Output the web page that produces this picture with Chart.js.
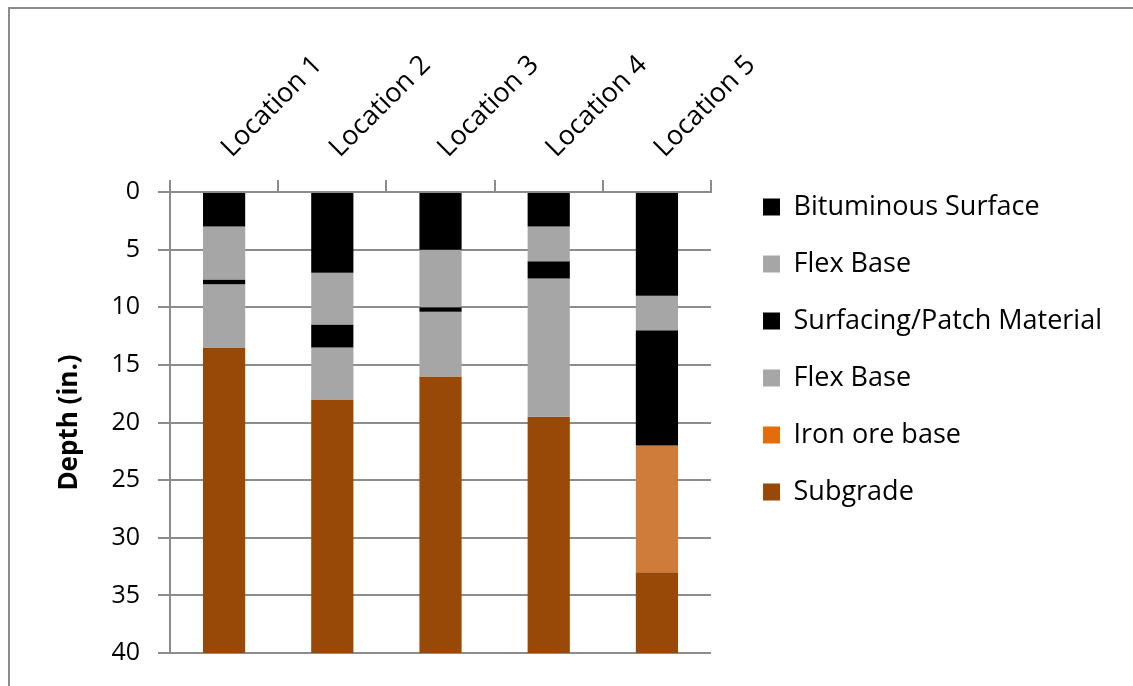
<!DOCTYPE html>
<html>
<head>
<meta charset="utf-8">
<script src="https://cdn.jsdelivr.net/npm/chart.js@4.4.1/dist/chart.umd.min.js"></script>
<style>
  body { margin: 0; background: #fff; overflow: hidden; }
  #frame { position: absolute; left: 8px; top: 7px; width: 1200px; height: 720px; border: 2px solid #8c8c8c; }
  #grafico { position: absolute; left: 0; top: 0; }
</style>
</head>
<body>
<div id="frame"></div>
<canvas id="grafico" width="1133" height="686"></canvas>
<script>
const locations = ['Location 1', 'Location 2', 'Location 3', 'Location 4', 'Location 5'];
const layerNames = ['Bituminous Surface', 'Flex Base', 'Surfacing/Patch Material', 'Flex Base', 'Iron ore base', 'Subgrade'];

// thickness of each layer (in.), top to bottom
const bituminous = [3, 7, 5, 3, 9];
const flexBase1 = [4.6, 4.5, 5, 3, 3];
const patch = [0.4, 2, 0.4, 1.5, 10];
const flexBase2 = [5.5, 4.5, 5.6, 12, 0];
const ironOre = [0, 0, 0, 0, 11];
const subgrade = [26.5, 22, 24, 20.5, 7];

const barColors = ['#000000', '#a6a6a6', '#000000', '#a6a6a6', '#cf7b3a', '#984807'];
const legendColors = ['#000000', '#a6a6a6', '#000000', '#a6a6a6', '#e46c0a', '#984807'];

const gridColor = '#8c8c8c';
const fonte = '"Open Sans", Lato, sans-serif';

const valores = [bituminous, flexBase1, patch, flexBase2, ironOre, subgrade];

new Chart(document.getElementById('grafico'), {
  type: 'bar',
  data: {
    labels: locations,
    datasets: valores.map((v, i) => ({
      label: layerNames[i],
      data: v,
      backgroundColor: barColors[i],
      borderWidth: 0,
      categoryPercentage: 1,
      barPercentage: 0.39
    }))
  },
  options: {
    responsive: false,
    animation: false,
    layout: { padding: { left: 54, top: 43, right: 21, bottom: 30 } },
    plugins: {
      tooltip: { enabled: false },
      legend: {
        position: 'right',
        maxWidth: 450,
        labels: {
          boxWidth: 17,
          boxHeight: 17,
          padding: 30,
          color: '#000',
          font: { family: fonte, size: 27 },
          generateLabels(chart) {
            return chart.data.datasets.map((d, i) => ({
              text: d.label,
              fillStyle: legendColors[i],
              strokeStyle: legendColors[i],
              lineWidth: 0,
              datasetIndex: i
            }));
          }
        }
      }
    },
    scales: {
      x: {
        position: 'top',
        stacked: true,
        grid: { offset: true, drawOnChartArea: false, tickLength: 12, color: gridColor, lineWidth: 2 },
        border: { color: gridColor, width: 2 },
        ticks: { minRotation: 45, maxRotation: 45, padding: 16, labelOffset: 25, color: '#000', font: { family: fonte, size: 27 } },
        afterFit(s) { s.height = 149; }
      },
      y: {
        stacked: true,
        reverse: true,
        min: 0,
        max: 40,
        ticks: { stepSize: 5, padding: 18, color: '#000', font: { family: fonte, size: 25 } },
        grid: { tickLength: 12, color: gridColor, lineWidth: 2 },
        border: { color: gridColor, width: 2 },
        title: { display: true, text: 'Depth (in.)', color: '#000', padding: 0, font: { family: fonte, size: 26, weight: 'bold' } },
        afterFit(s) { s.width = 116; }
      },
      // empty axis: only keeps the gap between plot and legend
      gap: {
        position: 'right',
        display: true,
        grid: { display: false },
        border: { display: false },
        ticks: { display: false },
        afterFit(s) { s.width = 22; }
      }
    }
  }
});
</script>
</body>
</html>
